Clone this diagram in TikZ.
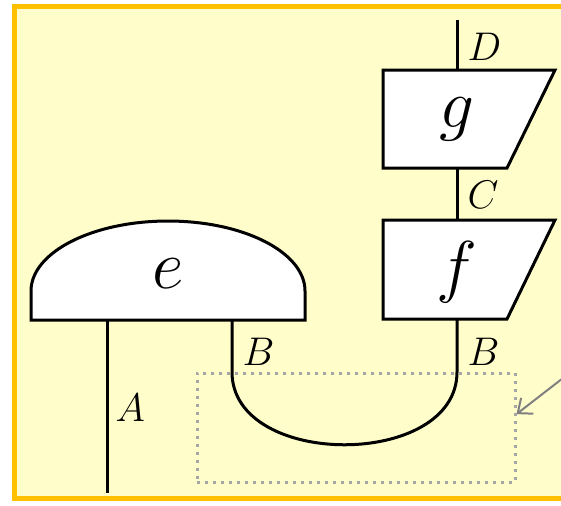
\documentclass[tikz,border=0pt]{standalone}
\usepackage{tikz}
\usetikzlibrary{arrows.meta,calc}
\definecolor{panel}{HTML}{FFFDC9}
\definecolor{rim}{HTML}{FFC000}
\definecolor{hint}{HTML}{A6A6A6}
\definecolor{pointergray}{HTML}{808080}

\tikzset{
  wire/.style={line width=0.9pt},
  morph/.style={draw, line width=0.9pt, fill=white, line join=miter},
  boxname/.style={font=\fontsize{21}{24}\selectfont, inner sep=0pt},
  typename/.style={font=\fontsize{11.5}{13}\selectfont, anchor=west, inner sep=0pt},
  hintbox/.style={draw=hint, line width=0.9pt, dash pattern=on 0.9pt off 1.5pt, inner sep=0pt},
  pointer/.style={draw=pointergray, line width=0.6pt, -{Straight Barb[length=3.6pt,width=6pt]}},
}

\begin{document}
\begin{tikzpicture}[x=0.3pt,y=-0.3pt]
    \useasboundingbox (0,0) rectangle (561,505);
    \clip (0,0) rectangle (561,505);
    \draw[rim, line width=1.5pt, fill=panel] (14.5,6.5) rectangle (600,498.5);

    % boxes
    \draw[morph] (31,320) -- (31,291)
        arc[start angle=180, end angle=360, x radius=137, y radius=70] -- (305,320) -- cycle;
    \draw[morph] (383,70) -- (555,70) -- (507,168) -- (383,168) -- cycle;
    \draw[morph] (383,220) -- (555,220) -- (507,319) -- (383,319) -- cycle;

    \node[boxname] (e) at (168,274) {$e$};
    \node[boxname] (g) at (457,119) {$g$};
    \node[boxname] (f) at (457,272) {$f$};

    % wires
    \coordinate (Dend) at (457,20);
    \coordinate (gtop) at (457,70);
    \coordinate (gbot) at (457,168);
    \coordinate (ftop) at (457,220);
    \coordinate (fbot) at (457,319);
    \coordinate (eA) at (107,320);
    \coordinate (Aend) at (107,493);
    \coordinate (eB) at (232,320);
    \coordinate (cupL) at (232,372);
    \coordinate (cupR) at (457,372);

    \draw[wire] (Dend) -- (gtop);
    \draw[wire] (gbot) -- (ftop);
    \draw[wire] (eA) -- (Aend);
    \draw[wire] (eB) -- (cupL) .. controls +(0,97) and +(0,97) .. (cupR) -- (fbot);

    % types
    \node[typename] (tD) at (467,47) {$D$};
    \node[typename] (tC) at (467,195) {$C$};
    \node[typename] (tB1) at (242,352) {$B$};
    \node[typename] (tB2) at (467,352) {$B$};
    \node[typename] (tA) at (115,408) {$A$};

    % highlight
    \node[hintbox, minimum width=95.4pt, minimum height=32.7pt] (cup) at (356,427.5) {};
    \coordinate (hintsrc) at (585,361);
    \draw[pointer] (hintsrc) -- ($(cup.north east)!0.38!(cup.south east)$);
\end{tikzpicture}
\end{document}
